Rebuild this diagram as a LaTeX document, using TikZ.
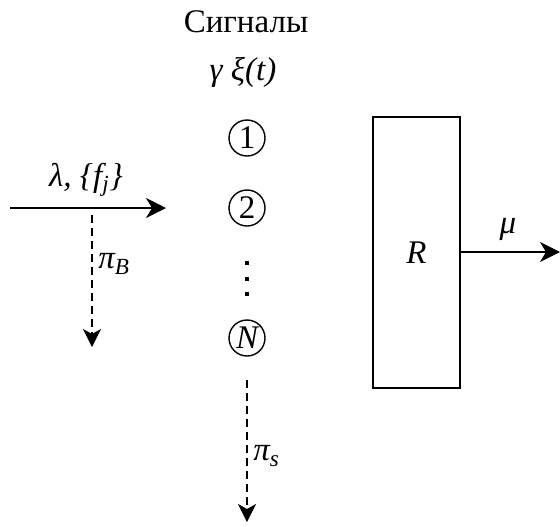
\documentclass[tikz,border=0pt]{standalone}
\usepackage{fontspec}
\setmainfont{Liberation Serif}
\usetikzlibrary{arrows.meta}
\begin{document}
\begin{tikzpicture}[x=0.5pt,y=-0.5pt,
  every node/.style={font=\fontsize{16.5}{19}\selectfont, inner sep=0pt},
  sig/.style={draw, circle, line width=0.7pt, minimum size=18pt},
  arr/.style={line width=1pt, -{Stealth[length=10pt,width=10pt,inset=3pt]}},
  darr/.style={line width=1pt, dash pattern=on 4pt off 2.5pt, -{Stealth[length=9pt,width=9pt,inset=2.5pt]}},
  dotsq/.style={fill, minimum size=2pt, inner sep=0pt},
  lbl/.style={font=\fontsize{16.5}{19}\selectfont\itshape}]
\useasboundingbox (0,0) rectangle (560,526);
\node (title) at (246,22) {Сигналы};
\node[lbl] (gx) at (243,72) {γ ξ(t)};
\node[sig] (s1) at (247,138) {1};
\node[sig] (s2) at (247,208) {2};
\node[dotsq] (d1) at (247,263) {};
\node[dotsq] (d2) at (247,278.5) {};
\node[dotsq] (d3) at (247,294) {};
\node[sig] (sN) at (247,338) {\itshape N};
\coordinate (inL) at (10,208);
\coordinate (inR) at (166,208);
\draw[arr] (inL) -- (inR);
\node[lbl] (lam) at (86,180) {λ, \{f\textsubscript{j}\}};
\coordinate (bT) at (92,215);
\coordinate (bB) at (92,347);
\draw[darr] (bT) -- (bB);
\node[lbl, anchor=west] (piB) at (98,264) {π\textsubscript{B}};
\coordinate (sT) at (247,380);
\coordinate (sB) at (247,522);
\draw[darr] (sT) -- (sB);
\node[lbl, anchor=west] (piS) at (253,456) {π\textsubscript{s}};
\node[draw, line width=0.85pt, minimum width=43.5pt, minimum height=135.5pt] (R) at (416.5,252.5) {\itshape R};
\coordinate (out) at (560,252);
\draw[arr] (R.east |- out) -- (out);
\node[lbl] (mu) at (508,229) {μ};
\end{tikzpicture}
\end{document}
